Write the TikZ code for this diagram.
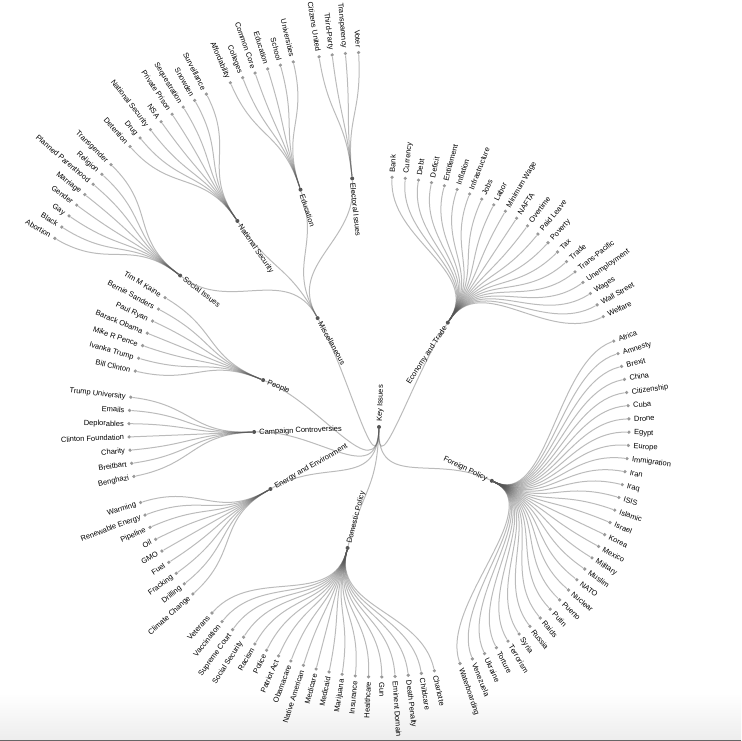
\documentclass[tikz,border=0pt]{standalone}
\usepackage{fontspec}
\setmainfont{Liberation Sans}
\definecolor{linkgray}{HTML}{555555}
\definecolor{leafgray}{HTML}{999999}
\tikzset{
  link/.style={draw=linkgray, draw opacity=0.4, line width=1pt},
  innerdot/.style={circle, fill=linkgray, inner sep=0pt, minimum size=4pt},
  leafdot/.style={circle, fill=leafgray, inner sep=0pt, minimum size=3.6pt},
  tag/.style={font=\fontsize{7.5}{9}\selectfont, inner sep=0pt},
  % leaf text sits outside its dot
  outward/.code={%
    \pgfmathsetmacro\tmpcos{cos(#1)}%
    \ifdim\tmpcos pt<0pt\relax
      \pgfkeysalso{rotate=#1+180, anchor=mid east}%
    \else
      \pgfkeysalso{rotate=#1, anchor=mid west}%
    \fi},
  % branch text sits inside its dot
  inward/.code={%
    \pgfmathsetmacro\tmpcos{cos(#1)}%
    \ifdim\tmpcos pt<0pt\relax
      \pgfkeysalso{rotate=#1+180, anchor=mid west}%
    \else
      \pgfkeysalso{rotate=#1, anchor=mid east}%
    \fi},
}
\begin{document}
\begin{tikzpicture}[x=1pt,y=1pt]
    \useasboundingbox (-379,-314) rectangle (362,427);

    % window bottom edge
    \shade[top color=white, bottom color=black!7] (-379,-312.5) rectangle (362,-266);
    \fill[black!60] (-379,-314) rectangle (362,-312.5);

    % Key issues (root)
    \node[innerdot] (root) at (0,0) {};
    \node[tag, rotate=88, anchor=mid west] at (88:5) {Key Issues};

    % Economy and Trade
    \node[innerdot] (econ) at (56.6:125) {};
    \node[tag, inward=56.6] at (56.6:120) {Economy and Trade};
    \draw[link] (root) .. controls (-92:62.5) and (56.6:62.5) .. (econ);
    \foreach \txt [count=\i from 0] in {Bank, Currency, Debt, Deficit, Entitlement, Inflation, Infrastructure, Jobs, Labor, Minimum Wage, NAFTA, Overtime, Paid Leave, Poverty, Tax, Trade, Trans-Pacific, Unemployment, Wages, Wall Street, Welfare}{
        \pgfmathsetmacro\ang{87-3.04*\i}
        \node[leafdot] (econ-\i) at (\ang:250) {};
        \node[tag, outward=\ang] at (\ang:255) {\txt};
        \draw[link] (econ) .. controls (56.6:187.5) and (\ang:187.5) .. (econ-\i);
    }

    % Foreign Policy
    \node[innerdot] (foreign) at (-25.5:125) {};
    \node[tag, inward=-25.5] at (-25.5:120) {Foreign Policy};
    \draw[link] (root) .. controls (-92:62.5) and (-25.5:62.5) .. (foreign);
    \foreach \txt [count=\i from 0] in {Africa, Amnesty, Brexit, China, Citizenship, Cuba, Drone, Egypt, Europe, Immigration, Iran, Iraq, ISIS, Islamic, Israel, Korea, Mexico, Military, Muslim, NATO, Nuclear, Puerto, Putin, Raids, Russia, Syria, Terrorism, Torture, Ukraine, Venezuela, Waterboarding}{
        \pgfmathsetmacro\ang{20.1-3.04*\i}
        \node[leafdot] (foreign-\i) at (\ang:250) {};
        \node[tag, outward=\ang] at (\ang:255) {\txt};
        \draw[link] (foreign) .. controls (-25.5:187.5) and (\ang:187.5) .. (foreign-\i);
    }

    % Domestic Policy
    \node[innerdot] (domestic) at (-104.56:125) {};
    \node[tag, inward=-104.56] at (-104.56:120) {Domestic Policy};
    \draw[link] (root) .. controls (-92:62.5) and (-104.56:62.5) .. (domestic);
    \foreach \txt [count=\i from 0] in {Charlotte, Childcare, Death Penalty, Eminent Domain, Gun, Healthcare, Insurance, Marijuana, Medicaid, Medicare, Native American, Obamacare, Patriot Act, Police, Racism, Social Security, Supreme Court, Vaccination, Veterans}{
        \pgfmathsetmacro\ang{-77.2-3.04*\i}
        \node[leafdot] (domestic-\i) at (\ang:250) {};
        \node[tag, outward=\ang] at (\ang:255) {\txt};
        \draw[link] (domestic) .. controls (-104.56:187.5) and (\ang:187.5) .. (domestic-\i);
    }

    % Energy and Environment
    \node[innerdot] (energy) at (-150.26:125) {};
    \node[tag, inward=-150.26] at (-150.26:120) {Energy and Environment};
    \draw[link] (root) .. controls (-92:62.5) and (-150.26:62.5) .. (energy);
    \foreach \txt [count=\i from 0] in {Climate Change, Drilling, Fracking, Fuel, GMO, Oil, Pipeline, Renewable Energy, Warming}{
        \pgfmathsetmacro\ang{-138.1-3.04*\i}
        \node[leafdot] (energy-\i) at (\ang:250) {};
        \node[tag, outward=\ang] at (\ang:255) {\txt};
        \draw[link] (energy) .. controls (-150.26:187.5) and (\ang:187.5) .. (energy-\i);
    }

    % Campaign Controversies
    \node[innerdot] (campaign) at (-177.72:125) {};
    \node[tag, inward=-177.72] at (-177.72:120) {Campaign Controversies};
    \draw[link] (root) .. controls (-92:62.5) and (-177.72:62.5) .. (campaign);
    \foreach \txt [count=\i from 0] in {Benghazi, Breitbart, Charity, Clinton Foundation, Deplorables, Emails, Trump University}{
        \pgfmathsetmacro\ang{-168.6-3.04*\i}
        \node[leafdot] (campaign-\i) at (\ang:250) {};
        \node[tag, outward=\ang] at (\ang:255) {\txt};
        \draw[link] (campaign) .. controls (-177.72:187.5) and (\ang:187.5) .. (campaign-\i);
    }

    % People
    \node[innerdot] (people) at (-202.04:125) {};
    \node[tag, inward=-202.04] at (-202.04:120) {People};
    \draw[link] (root) .. controls (-92:62.5) and (-202.04:62.5) .. (people);
    \foreach \txt [count=\i from 0] in {Bill Clinton, Ivanka Trump, Mike R Pence, Barack Obama, Paul Ryan, Bernie Sanders, Tim M Kaine}{
        \pgfmathsetmacro\ang{-192.92-3.04*\i}
        \node[leafdot] (people-\i) at (\ang:250) {};
        \node[tag, outward=\ang] at (\ang:255) {\txt};
        \draw[link] (people) .. controls (-202.04:187.5) and (\ang:187.5) .. (people-\i);
    }

    % Miscellaneous
    \node[innerdot] (misc) at (119.4:125) {};
    \node[tag, inward=119.4] at (119.4:120) {Miscellaneous};
    \draw[link] (root) .. controls (-92:62.5) and (119.4:62.5) .. (misc);

    % Social Issues
    \node[innerdot] (social) at (142.7:250) {};
    \node[tag, inward=142.7] at (142.7:245) {Social Issues};
    \draw[link] (misc) .. controls (119.4:187.5) and (142.7:187.5) .. (social);
    \foreach \txt [count=\i from 0] in {Abortion, Black, Gay, Gender, Marriage, Planned Parenthood, Religion, Transgender}{
        \pgfmathsetmacro\ang{149.8-2.027*\i}
        \node[leafdot] (social-\i) at (\ang:375) {};
        \node[tag, outward=\ang] at (\ang:380) {\txt};
        \draw[link] (social) .. controls (142.7:312.5) and (\ang:312.5) .. (social-\i);
    }

    % National Security
    \node[innerdot] (security) at (124.5:250) {};
    \node[tag, inward=124.5] at (124.5:245) {National Security};
    \draw[link] (misc) .. controls (119.4:187.5) and (124.5:187.5) .. (security);
    \foreach \txt [count=\i from 0] in {Detention, Drug, National Security, NSA, Private Prison, Sequestration, Snowden, Surveillance}{
        \pgfmathsetmacro\ang{131.6-2.027*\i}
        \node[leafdot] (security-\i) at (\ang:375) {};
        \node[tag, outward=\ang] at (\ang:380) {\txt};
        \draw[link] (security) .. controls (124.5:312.5) and (\ang:312.5) .. (security-\i);
    }

    % Education
    \node[innerdot] (educ) at (108.3:250) {};
    \node[tag, inward=108.3] at (108.3:245) {Education};
    \draw[link] (misc) .. controls (119.4:187.5) and (108.3:187.5) .. (educ);
    \foreach \txt [count=\i from 0] in {Affordability, Colleges, Common Core, Education, School, Universities}{
        \pgfmathsetmacro\ang{113.35-2.027*\i}
        \node[leafdot] (educ-\i) at (\ang:375) {};
        \node[tag, outward=\ang] at (\ang:380) {\txt};
        \draw[link] (educ) .. controls (108.3:312.5) and (\ang:312.5) .. (educ-\i);
    }

    % Electoral Issues
    \node[innerdot] (electoral) at (96.15:250) {};
    \node[tag, inward=96.15] at (96.15:245) {Electoral Issues};
    \draw[link] (misc) .. controls (119.4:187.5) and (96.15:187.5) .. (electoral);
    \foreach \txt [count=\i from 0] in {Citizens United, Third-Party, Transparency, Voter}{
        \pgfmathsetmacro\ang{99.2-2.027*\i}
        \node[leafdot] (electoral-\i) at (\ang:375) {};
        \node[tag, outward=\ang] at (\ang:380) {\txt};
        \draw[link] (electoral) .. controls (96.15:312.5) and (\ang:312.5) .. (electoral-\i);
    }
\end{tikzpicture}
\end{document}
